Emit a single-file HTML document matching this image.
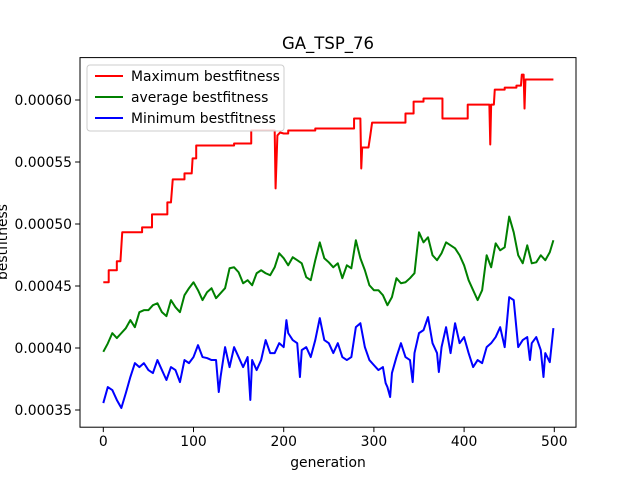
<!DOCTYPE html>
<html><head><meta charset="utf-8"><style>
html,body{margin:0;padding:0;background:#fff;}
svg{display:block;font-family:"DejaVu Sans","Liberation Sans",sans-serif;}
</style></head><body>
<svg id="chart" width="640" height="480" viewBox="0 0 640 480" xmlns="http://www.w3.org/2000/svg">
<rect width="640" height="480" fill="#fff"/>
<text x="328" y="49" text-anchor="middle" font-size="16.5">GA_TSP_76</text>
<g id="plot"></g>
<g id="axes"></g>
<text x="328" y="467" text-anchor="middle" font-size="13.9">generation</text>
<text transform="translate(7,242) rotate(-90)" text-anchor="middle" font-size="13.9">bestfitness</text>
<g>
<rect x="87" y="65" width="197" height="66" rx="3" fill="#fff" fill-opacity="0.8" stroke="#ccc" stroke-width="1"/>
<line x1="95" y1="76" x2="123" y2="76" stroke="red" stroke-width="2"/>
<text x="131" y="81" font-size="13.9">Maximum bestfitness</text>
<line x1="95" y1="97" x2="123" y2="97" stroke="green" stroke-width="2"/>
<text x="131" y="102" font-size="13.9">average bestfitness</text>
<line x1="95" y1="118" x2="123" y2="118" stroke="blue" stroke-width="2"/>
<text x="131" y="123" font-size="13.9">Minimum bestfitness</text>
</g>
</svg>
<script>
const xTicks = [0,100,200,300,400,500];
const yTicks = [0.00035,0.00040,0.00045,0.00050,0.00055,0.00060];
const yTickLabels = ["0.00035","0.00040","0.00045","0.00050","0.00055","0.00060"];
const maxGen = [0,6,6,15,15,19,21,43,43,54,54,71,71,75,77,90,90,98,99,103,103,145,145,164,164,190,191,193,196,200,205,205,235,235,278,278,285,286,287,294,296,298,335,335,344,344,355,355,376,376,404,404,428,429,430,433,434,445,445,458,458,463,464,466,467,468,499];
const maxVal = [0.0004530,0.0004530,0.0004627,0.0004627,0.0004700,0.0004700,0.0004933,0.0004933,0.0004973,0.0004973,0.0005078,0.0005078,0.0005174,0.0005174,0.0005360,0.0005360,0.0005408,0.0005408,0.0005529,0.0005529,0.0005633,0.0005633,0.0005649,0.0005649,0.0005754,0.0005754,0.0005287,0.0005714,0.0005738,0.0005730,0.0005730,0.0005754,0.0005754,0.0005770,0.0005770,0.0005851,0.0005851,0.0005448,0.0005617,0.0005617,0.0005714,0.0005818,0.0005818,0.0005891,0.0005891,0.0005987,0.0005987,0.0006012,0.0006012,0.0005851,0.0005851,0.0005963,0.0005963,0.0005641,0.0005963,0.0005963,0.0006084,0.0006084,0.0006100,0.0006100,0.0006116,0.0006116,0.0006205,0.0006205,0.0005931,0.0006165,0.0006165];
const avgGen = [0,5,10,15,20,25,30,35,40,45,50,55,60,65,70,75,80,85,90,95,100,105,110,115,120,125,130,135,140,145,150,155,160,165,170,175,180,185,190,195,200,205,210,215,220,225,230,235,240,245,250,255,260,265,270,275,280,285,290,295,300,305,310,315,320,325,330,335,340,345,350,355,360,365,370,375,380,385,390,395,400,405,410,415,420,425,430,435,440,445,450,455,460,465,470,475,480,485,490,495,499];
const avgVal = [0.0003969,0.0004037,0.0004120,0.0004080,0.0004120,0.0004160,0.0004225,0.0004168,0.0004289,0.0004305,0.0004305,0.0004345,0.0004361,0.0004289,0.0004257,0.0004386,0.0004329,0.0004289,0.0004426,0.0004482,0.0004530,0.0004466,0.0004386,0.0004450,0.0004482,0.0004402,0.0004442,0.0004482,0.0004643,0.0004651,0.0004611,0.0004522,0.0004547,0.0004506,0.0004603,0.0004627,0.0004603,0.0004587,0.0004651,0.0004764,0.0004724,0.0004667,0.0004732,0.0004708,0.0004683,0.0004571,0.0004547,0.0004708,0.0004852,0.0004724,0.0004691,0.0004651,0.0004683,0.0004563,0.0004667,0.0004643,0.0004869,0.0004724,0.0004627,0.0004506,0.0004466,0.0004466,0.0004426,0.0004345,0.0004410,0.0004563,0.0004522,0.0004530,0.0004563,0.0004603,0.0004933,0.0004852,0.0004893,0.0004748,0.0004708,0.0004764,0.0004852,0.0004828,0.0004804,0.0004748,0.0004667,0.0004547,0.0004466,0.0004386,0.0004466,0.0004748,0.0004651,0.0004844,0.0004788,0.0004812,0.0005060,0.0004933,0.0004748,0.0004683,0.0004828,0.0004683,0.0004691,0.0004748,0.0004708,0.0004772,0.0004869];
const minGen = [0,5,10,15,20,25,30,35,40,45,50,55,60,65,70,75,80,85,90,95,100,105,110,115,120,125,128,130,135,140,145,150,155,160,163,165,170,175,180,185,190,195,200,203,205,210,215,218,220,225,230,235,240,245,250,255,260,265,270,275,280,285,290,295,300,305,310,313,315,318,320,325,330,335,340,343,345,350,355,360,365,370,372,375,380,385,390,395,400,405,410,415,420,425,430,435,440,445,450,455,460,465,470,473,475,480,485,488,490,495,499];
const minVal = [0.0003556,0.0003685,0.0003661,0.0003581,0.0003516,0.0003637,0.0003766,0.0003878,0.0003846,0.0003878,0.0003822,0.0003798,0.0003903,0.0003822,0.0003742,0.0003846,0.0003822,0.0003725,0.0003903,0.0003878,0.0003927,0.0004023,0.0003927,0.0003919,0.0003903,0.0003903,0.0003645,0.0003766,0.0004007,0.0003846,0.0004007,0.0003927,0.0003846,0.0003927,0.0003581,0.0003903,0.0003822,0.0003903,0.0004064,0.0003959,0.0003959,0.0004039,0.0004007,0.0004225,0.0004120,0.0004064,0.0004039,0.0003766,0.0003983,0.0004007,0.0003927,0.0004064,0.0004241,0.0004064,0.0004039,0.0003959,0.0004039,0.0003927,0.0003903,0.0003927,0.0004168,0.0004200,0.0004007,0.0003903,0.0003862,0.0003822,0.0003846,0.0003717,0.0003685,0.0003605,0.0003798,0.0003927,0.0004039,0.0003927,0.0003903,0.0003725,0.0003959,0.0004120,0.0004144,0.0004249,0.0004039,0.0003959,0.0003806,0.0004007,0.0004168,0.0003959,0.0004200,0.0004039,0.0004088,0.0003959,0.0003846,0.0003903,0.0003878,0.0004007,0.0004039,0.0004088,0.0004168,0.0004007,0.0004410,0.0004386,0.0004007,0.0004064,0.0004088,0.0003903,0.0004039,0.0004088,0.0003983,0.0003766,0.0003959,0.0003886,0.0004160];

const L=80,R=576,T=57.6,B=427.2;
function xs(g){return 103.3+(g/500)*(554.3-103.3);}
function ys(v){return 410-(v-0.00035)/0.00025*(410-100);}
const NS="http://www.w3.org/2000/svg";
const plot=document.getElementById('plot');
const axes=document.getElementById('axes');
function mk(t,a,p){const e=document.createElementNS(NS,t);for(const k in a)e.setAttribute(k,a[k]);p.appendChild(e);return e;}
function series(gens,vals,color,name){
  const pts=gens.map((g,i)=>xs(g).toFixed(2)+','+ys(vals[i]).toFixed(2)).join(' ');
  const pl=mk('polyline',{points:pts,fill:'none',stroke:color,'stroke-width':2,'stroke-linejoin':'round'},plot);
  
  
}
series(maxGen,maxVal,'red','max-bestfitness-line');
series(avgGen,avgVal,'green','average-bestfitness-line');
series(minGen,minVal,'blue','min-bestfitness-line');
const fr=mk('rect',{x:L,y:T,width:R-L,height:B-T,fill:'none',stroke:'#000','stroke-width':1},axes);


xTicks.forEach(t=>{
  const x=xs(t);
  mk('line',{x1:x,y1:B,x2:x,y2:B+4.9,stroke:'#000','stroke-width':1},axes);
  const tx=mk('text',{x:x,y:B+19,'text-anchor':'middle','font-size':13.9},axes);
  tx.textContent=t;
  
  
});
yTicks.forEach((t,i)=>{
  const y=ys(t);
  mk('line',{x1:L-4.9,y1:y,x2:L,y2:y,stroke:'#000','stroke-width':1},axes);
  const tx=mk('text',{x:L-8,y:y+5,'text-anchor':'end','font-size':13.9},axes);
  tx.textContent=yTickLabels[i];
  
  
});
</script>
</body></html>
